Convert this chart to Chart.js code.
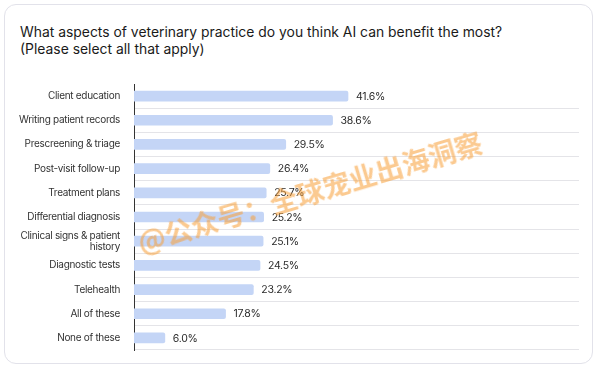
<!DOCTYPE html>
<html>
<head>
<meta charset="utf-8">
<script src="https://cdn.jsdelivr.net/npm/chart.js@4"></script>
<style>
  html, body { margin: 0; padding: 0; background: #ffffff; }
  body { width: 600px; height: 370px; position: relative; overflow: hidden; font-family: Inter, "Noto Sans", sans-serif; }
  .card { position: absolute; left: 4px; top: 4px; width: 589px; height: 360px; border: 1px solid #e2e2ea; border-radius: 12px; box-sizing: border-box; }
  .title { position: absolute; left: 20px; top: 24px; font-size: 13.9px; line-height: 17px; color: #1a1a1a; }
  #chartWrap { position: absolute; left: 0; top: 0; width: 600px; height: 370px; }
  .mark { position: absolute; left: 138px; top: 222px; font-family: "Noto Sans CJK SC", sans-serif; font-weight: 700; font-size: 27.5px; color: rgba(247, 158, 55, 0.55); transform: rotate(-16.5deg); transform-origin: left center; white-space: nowrap; pointer-events: none; }
</style>
</head>
<body>
<div class="card"></div>
<div class="title">What aspects of veterinary practice do you think AI can benefit the most?<br>(Please select all that apply)</div>
<div id="chartWrap"><canvas id="chart" width="600" height="370"></canvas></div>
<div class="mark">@公众号：全球宠业出海洞察</div>
<script>
// Categories and values
const categories = [
  'Client education',
  'Writing patient records',
  'Prescreening & triage',
  'Post-visit follow-up',
  'Treatment plans',
  'Differential diagnosis',
  ['Clinical signs & patient', 'history'],
  'Diagnostic tests',
  'Telehealth',
  'All of these',
  'None of these'
];
const shares = [41.6, 38.6, 29.5, 26.4, 25.7, 25.2, 25.1, 24.5, 23.2, 17.8, 6.0];

// tighter text, the source uses a narrow UI font
const tightText = {
  id: 'tightText',
  beforeDraw(chart) { chart.ctx.letterSpacing = '-0.3px'; },
  afterDraw(chart) { chart.ctx.letterSpacing = '0px'; }
};

// Draws the "41.6%" style labels at the end of each bar
const valueLabels = {
  id: 'valueLabels',
  afterDatasetsDraw(chart) {
    const ctx = chart.ctx;
    const meta = chart.getDatasetMeta(0);
    ctx.save();
    ctx.font = '10.5px Inter, "Noto Sans", sans-serif';
    ctx.fillStyle = '#2a2a2a';
    ctx.textAlign = 'left';
    ctx.textBaseline = 'middle';
    meta.data.forEach((bar, i) => {
      ctx.fillText(shares[i].toFixed(1) + '%', bar.x + 8, bar.y + 0.5);
    });
    ctx.restore();
  }
};

const ctx = document.getElementById('chart').getContext('2d');
new Chart(ctx, {
  type: 'bar',
  data: {
    labels: categories,
    datasets: [{
      data: shares,
      backgroundColor: '#c4d5f6',
      borderRadius: 2,
      borderSkipped: 'start',
      barThickness: 10
    }]
  },
  options: {
    indexAxis: 'y',
    responsive: false,
    animation: false,
    events: [],
    layout: { padding: { left: 0, right: 21, top: 84, bottom: 20 } },
    plugins: {
      legend: { display: false },
      tooltip: { enabled: false }
    },
    scales: {
      x: {
        display: false,
        min: 0,
        max: 86.5
      },
      y: {
        afterFit(scale) { scale.width = 134; },
        border: { display: true, color: '#333333', width: 1 },
        grid: {
          offset: true,
          drawTicks: false,
          color: (c) => c.index === 0 ? 'rgba(0,0,0,0)' : '#e4e4e8',
          lineWidth: 1
        },
        ticks: {
          autoSkip: false,
          padding: 14,
          color: '#333333',
          font: { family: 'Inter, "Noto Sans", sans-serif', size: 10, lineHeight: 1.1 }
        }
      }
    }
  },
  plugins: [tightText, valueLabels]
});
</script>
</body>
</html>
